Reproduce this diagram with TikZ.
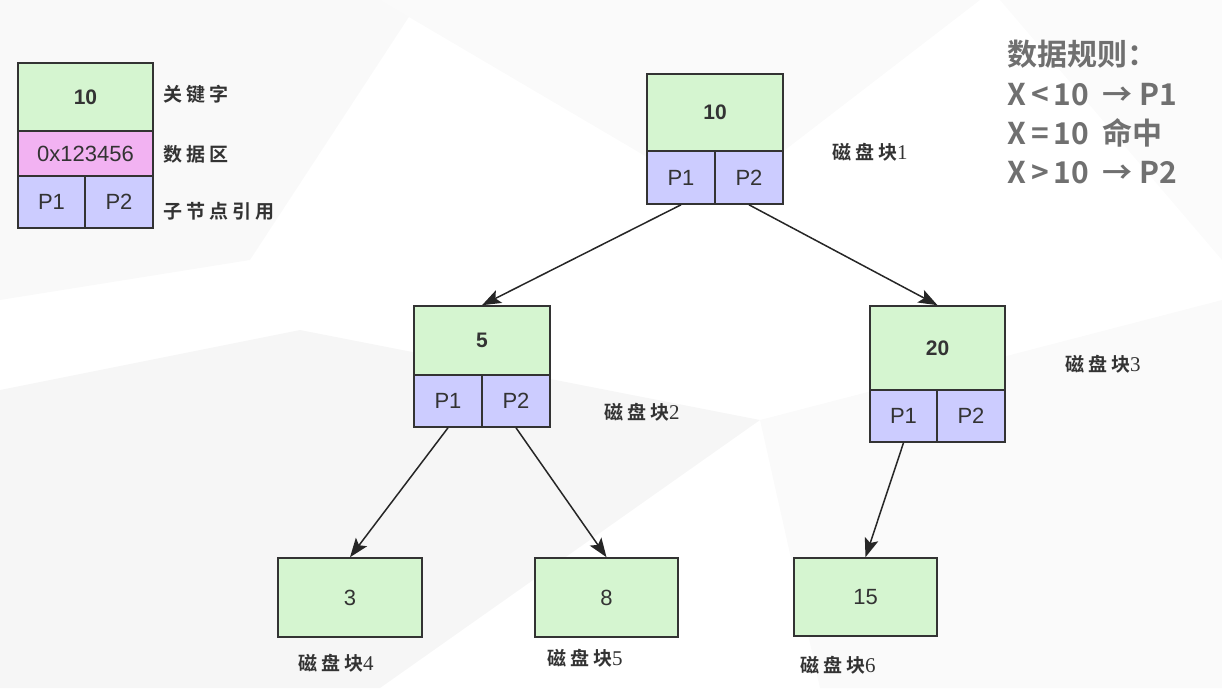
\documentclass[tikz,border=0pt]{standalone}
\usepackage{fontspec}
\setmainfont{Liberation Sans}
\newfontfamily\cjk{Noto Sans CJK SC}
\newfontfamily\cjkb{Noto Sans CJK SC Bold}
\newfontfamily\serifdigit{Liberation Serif}
\usetikzlibrary{arrows.meta}
\definecolor{keygreen}{HTML}{D5F5D0}
\definecolor{datapink}{HTML}{F2B2F2}
\definecolor{ptrblue}{HTML}{CCCCFF}
\definecolor{edge}{HTML}{333333}
\definecolor{rulegray}{HTML}{707070}
\tikzset{
  cell/.style={draw=edge, line width=1.6pt, inner sep=0pt, text=edge, font=\fontsize{22}{25}\selectfont},
  keycell/.style={cell, fill=keygreen, font=\fontsize{21}{24}\selectfont\bfseries},
  leafcell/.style={cell, fill=keygreen},
  datacell/.style={cell, fill=datapink},
  ptrcell/.style={cell, fill=ptrblue},
  note/.style={anchor=west, inner sep=0pt, text=black!80, font=\fontsize{19}{22}\selectfont\cjkb},
  rule/.style={anchor=west, inner sep=0pt, text=rulegray, font=\fontsize{30}{34}\selectfont\cjkb},
  link/.style={draw=black!85, line width=1.5pt, -{Stealth[length=19pt,width=14pt,inset=4pt]}}
}
\newcommand{\blk}[1]{磁\hspace{4pt}盘\hspace{4pt}块{\serifdigit\fontsize{21}{24}\selectfont #1}}
\begin{document}
\begin{tikzpicture}[x=1pt,y=-1pt]
\useasboundingbox (0,0) rectangle (1222,688);
% faint background facets
\fill[black!2.5] (0,0) -- (420,0) -- (250,260) -- (0,300) -- cycle;
\fill[black!3.5] (0,390) -- (300,330) -- (760,420) -- (380,688) -- (0,688) -- cycle;
\fill[black!2] (760,420) -- (1222,300) -- (1222,688) -- (820,688) -- cycle;
\fill[black!2] (380,0) -- (980,0) -- (720,200) -- cycle;
\fill[black!1.5] (1000,0) -- (1222,0) -- (1222,260) -- cycle;

% legend
\node[keycell, minimum width=135pt, minimum height=68pt] (lk) at (85.5,97) {10};
\node[datacell, minimum width=135pt, minimum height=45pt] (ld) at (85.5,153.5) {0x123456};
\node[ptrcell, minimum width=67pt, minimum height=52pt] (lp1) at (51.5,202) {P1};
\node[ptrcell, minimum width=68pt, minimum height=52pt] (lp2) at (119,202) {P2};
\node[note] (lkt) at (163,94) {关\hspace{4pt}键\hspace{4pt}字};
\node[note] (ldt) at (163,154) {数\hspace{4pt}据\hspace{4pt}区};
\node[note] (lpt) at (163,211) {子\hspace{4pt}节\hspace{4pt}点\hspace{4pt}引\hspace{4pt}用};

% rules
\node[rule] (r0) at (1007,54) {数据规则：};
\node[rule] (r1) at (1007,95) {X\,<\,10\ \ → P1};
\node[rule] (r2) at (1007,133) {X\,=\,10\ \ 命中};
\node[rule] (r3) at (1007,173) {X\,>\,10\ \ → P2};

% root
\node[keycell, minimum width=136pt, minimum height=77pt] (rk) at (715,112.5) {10};
\node[ptrcell, minimum width=68pt, minimum height=53pt] (rp1) at (681,177.5) {P1};
\node[ptrcell, minimum width=68pt, minimum height=53pt] (rp2) at (749,177.5) {P2};
\node[note] (b1) at (832,152) {\blk{1}};

% node 5
\node[keycell, minimum width=136pt, minimum height=69pt] (ak) at (482,340.5) {5};
\node[ptrcell, minimum width=68pt, minimum height=52pt] (ap1) at (448,401) {P1};
\node[ptrcell, minimum width=68pt, minimum height=52pt] (ap2) at (516,401) {P2};
\node[note] (b2) at (604,412) {\blk{2}};

% node 20
\node[keycell, minimum width=135pt, minimum height=84pt] (ck) at (937.5,348) {20};
\node[ptrcell, minimum width=67pt, minimum height=52pt] (cp1) at (903.5,416) {P1};
\node[ptrcell, minimum width=68pt, minimum height=52pt] (cp2) at (971,416) {P2};
\node[note] (b3) at (1065,364) {\blk{3}};

% leaves
\node[leafcell, minimum width=144pt, minimum height=79pt] (l3) at (350,597.5) {3};
\node[leafcell, minimum width=143pt, minimum height=79pt] (l8) at (606.5,597.5) {8};
\node[leafcell, minimum width=143pt, minimum height=78pt] (l15) at (865.5,597) {15};
\node[note] (b4) at (298,663) {\blk{4}};
\node[note] (b5) at (547,658) {\blk{5}};
\node[note] (b6) at (800,665) {\blk{6}};

% links
\draw[link] (rp1.south) -- (ak.north);
\draw[link] (rp2.south) -- (ck.north);
\draw[link] (ap1.south) -- (l3.north);
\draw[link] (ap2.south) -- (l8.north);
\draw[link] (cp1.south) -- (l15.north);
\end{tikzpicture}
\end{document}
